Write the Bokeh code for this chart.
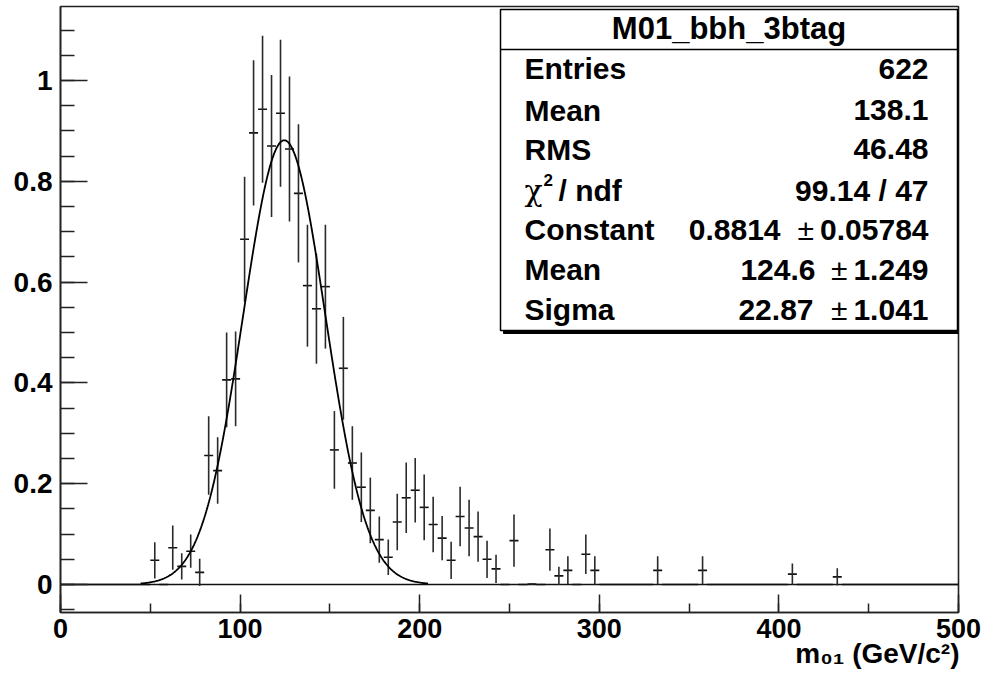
import numpy as np
from bokeh.plotting import figure
from bokeh.models import Label, SingleIntervalTicker, CustomJSTickFormatter, Range1d, Title
from bokeh.embed import file_html
from bokeh.resources import INLINE

# ---------------- data ----------------
BIN_LOW, BIN_WIDTH, N_BINS = 0.0, 5.0, 100
HIST_CONTENT = [
    0, 0, 0, 0, 0, 0, 0, 0, 0, 0,
    0.048, 0, 0.073, 0.036, 0.066, 0.024, 0.256, 0.226, 0.406, 0.408,
    0.685, 0.896, 0.943, 0.870, 0.935, 0.864, 0.776, 0.593, 0.547, 0.591,
    0.267, 0.429, 0.241, 0.193, 0.147, 0.089, 0.054, 0.124, 0.172, 0.187,
    0.153, 0.119, 0.092, 0.048, 0.135, 0.112, 0.095, 0.050, 0.031, 0,
    0.087, 0, 0.001, 0, 0.069, 0.017, 0.028, 0, 0.060, 0.028,
    0, 0, 0, 0, 0, 0, 0.028, 0, 0, 0,
    0, 0.028, 0, 0, 0, 0, 0, 0, 0, 0,
    0, 0.0205, 0, 0, 0, 0, 0.015, 0, 0, 0,
    0, 0, 0, 0, 0, 0, 0, 0, 0, 0,
]
HIST_ERROR = [
    0, 0, 0, 0, 0, 0, 0, 0, 0, 0,
    0.036, 0, 0.044, 0.026, 0.033, 0.027, 0.078, 0.066, 0.094, 0.094,
    0.124, 0.144, 0.146, 0.141, 0.146, 0.144, 0.137, 0.121, 0.109, 0.123,
    0.077, 0.102, 0.073, 0.069, 0.065, 0.046, 0.035, 0.056, 0.070, 0.064,
    0.065, 0.055, 0.044, 0.037, 0.059, 0.056, 0.050, 0.037, 0.028, 0,
    0.052, 0, 0.002, 0, 0.042, 0.018, 0.028, 0, 0.039, 0.028,
    0, 0, 0, 0, 0, 0, 0.028, 0, 0, 0,
    0, 0.028, 0, 0, 0, 0, 0, 0, 0, 0,
    0, 0.021, 0, 0, 0, 0, 0.017, 0, 0, 0,
    0, 0, 0, 0, 0, 0, 0, 0, 0, 0,
]
FIT_CONSTANT = 0.8814
FIT_MEAN = 124.6
FIT_SIGMA = 22.87
FIT_RANGE = [44.6, 204.6]

STATS_TITLE = "M01_bbh_3btag"
STATS_LABELS = ["Entries", "Mean", "RMS", None, "Constant", "Mean", "Sigma"]
STATS_VALUES = ["622", "138.1", "46.48", "99.14 / 47", "0.8814", "124.6", "22.87"]
STATS_ERRORS = [None, None, None, None, "0.05784", "1.249", "1.041"]

X_TITLE = "m\u2080\u2081 (GeV/c\u00b2)"

# ---------------- geometry ----------------
W, H = 998, 677
FL, FR, FT, FB = 60, 958, 6, 612
X0, X1 = 0.0, 500.0
Y0, Y1 = -0.0556, 1.1468
BASE_FIX = 9  # empirical shift of Label alphabetic baseline


def dx(px):
    return X0 + (px - FL) / (FR - FL) * (X1 - X0)


def dy(py):
    return Y0 + (FB - py) / (FB - FT) * (Y1 - Y0)


p = figure(width=W, height=H, output_backend="svg", toolbar_location=None,
           x_range=Range1d(X0, X1), y_range=Range1d(Y0, Y1),
           min_border_left=FL, min_border_right=W - FR,
           min_border_top=FT, min_border_bottom=H - FB,
           background_fill_color="white", border_fill_color="white")
p.grid.visible = False
p.outline_line_color = "#222222"
p.outline_line_width = 1.6

FONT = "Liberation Sans"

for ax in (p.xaxis[0], p.yaxis[0]):
    ax.axis_line_color = "#222222"
    ax.axis_line_width = 1.6
    ax.major_tick_line_color = "#222222"
    ax.minor_tick_line_color = "#222222"
    ax.major_tick_line_width = 1.5
    ax.minor_tick_line_width = 1.5
    ax.major_tick_out = 0
    ax.minor_tick_out = 0
    ax.major_label_text_font = FONT
    ax.major_label_text_font_style = "bold"
    ax.major_label_text_color = "black"

p.xaxis.ticker = SingleIntervalTicker(interval=100, num_minor_ticks=2)
p.xaxis.major_tick_in = 18
p.xaxis.minor_tick_in = 9
p.xaxis.major_label_standoff = 6
p.xaxis.major_label_text_font_size = "27px"

p.yaxis.ticker = SingleIntervalTicker(interval=0.2, num_minor_ticks=4)
p.yaxis.major_tick_in = 27
p.yaxis.minor_tick_in = 14
p.yaxis.major_label_standoff = 8
p.yaxis.major_label_text_font_size = "28px"
p.yaxis.formatter = CustomJSTickFormatter(code="const v = Math.round(tick*10)/10; return String(v);")

# ---------------- histogram with errors ----------------
content = np.array(HIST_CONTENT, dtype=float)
err = np.array(HIST_ERROR, dtype=float)
centers = BIN_LOW + BIN_WIDTH * (np.arange(N_BINS) + 0.5)

# zero line of the histogram frame
p.segment(x0=[X0], x1=[X1], y0=[0], y1=[0], line_color="#111111", line_width=1.6)
p.segment(x0=centers - BIN_WIDTH / 2, x1=centers + BIN_WIDTH / 2, y0=content, y1=content,
          line_color="#111111", line_width=1.6)
m = err > 0
p.segment(x0=centers[m], x1=centers[m], y0=content[m] - err[m], y1=content[m] + err[m],
          line_color="#2a2a2a", line_width=1.6)

# ---------------- gaussian fit ----------------
xf = np.linspace(FIT_RANGE[0], FIT_RANGE[1], 400)
yf = FIT_CONSTANT * np.exp(-0.5 * ((xf - FIT_MEAN) / FIT_SIGMA) ** 2)
p.line(xf, yf, line_color="black", line_width=1.8)

# ---------------- stats box ----------------
BL, BR, BT, BB = 500, 957, 9, 330
SH = 3
p.quad(left=[dx(BL + SH)], right=[dx(BR + SH)], top=[dy(BT + SH)], bottom=[dy(BB + SH)],
       fill_color="black", line_color="black")
p.quad(left=[dx(BL)], right=[dx(BR)], top=[dy(BT)], bottom=[dy(BB)],
       fill_color="white", line_color="black", line_width=1.5)
p.segment(x0=[dx(BL)], x1=[dx(BR)], y0=[dy(49)], y1=[dy(49)], line_color="black", line_width=1.5)


def lab(text, px, py, size, align="left", bold=True, font=FONT):
    p.add_layout(Label(x=dx(px), y=dy(py - BASE_FIX), text=text, text_font=font,
                       text_font_size=f"{size}px",
                       text_font_style="bold" if bold else "normal",
                       text_align=align, text_baseline="alphabetic",
                       text_color="black"))


ADV = {"0": .556, "1": .556, "2": .556, "3": .556, "4": .556, "5": .556,
       "6": .556, "7": .556, "8": .556, "9": .556, ".": .278}


def width_px(s, size):
    return sum(ADV.get(c, .556) for c in s) * size


FS = 30
lab(STATS_TITLE, (BL + BR) / 2, 37, 31, align="center")

ROW_BASE = [77.3, 118.5, 157.7, 199.3, 238.3, 278.3, 318.3]
LX, RX = 524, 928
VAL_RIGHT = [None, None, None, None, 780, 815, 813]
for i, base in enumerate(ROW_BASE):
    if STATS_LABELS[i] is not None:
        lab(STATS_LABELS[i], LX, base, FS)
    else:
        lab("\u03c7", LX, base, FS, bold=False, font="DejaVu Serif")
        lab("2", 543, base - 11, 17)
        lab("/ ndf", 558, base, FS)
    if STATS_ERRORS[i] is None:
        lab(STATS_VALUES[i], RX, base, FS, align="right")
    else:
        lab(STATS_VALUES[i], VAL_RIGHT[i], base, FS, align="right")
        err_left = RX - width_px(STATS_ERRORS[i], FS)
        lab("\u00b1", err_left - 6, base, FS, align="right", bold=False)
        lab(STATS_ERRORS[i], RX, base, FS, align="right")

# ---------------- x axis title ----------------
t = Title(text=X_TITLE, align="right", text_font=FONT, text_font_style="bold",
          text_font_size="28px", standoff=-10, offset=-1, text_color="black")
p.add_layout(t, "below")

open("out.html", "w").write(file_html(p, INLINE))
